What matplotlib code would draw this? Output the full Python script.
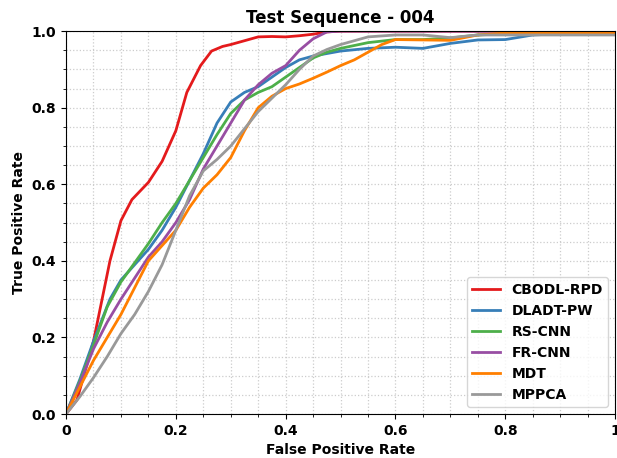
import matplotlib
matplotlib.use('Agg')
import matplotlib.pyplot as plt
from matplotlib.ticker import MultipleLocator

# ROC curves
red_x = [0, 0.02, 0.05, 0.08, 0.1, 0.12, 0.15, 0.175, 0.2, 0.22, 0.245, 0.265, 0.285, 0.3,
         0.325, 0.35, 0.375, 0.4, 0.425, 0.45, 0.475, 0.5, 0.6, 0.8, 1.0]
red_y = [0, 0.037, 0.19, 0.40, 0.505, 0.56, 0.605, 0.66, 0.74, 0.84, 0.91, 0.948, 0.96, 0.965,
         0.975, 0.985, 0.986, 0.985, 0.988, 0.992, 0.998, 1.0, 1.0, 1.0, 1.0]

blue_x = [0, 0.025, 0.05, 0.08, 0.1, 0.125, 0.15, 0.175, 0.2, 0.225, 0.25, 0.275, 0.3, 0.325,
          0.35, 0.375, 0.4, 0.425, 0.45, 0.5, 0.55, 0.6, 0.65, 0.7, 0.75, 0.8, 0.85, 0.9, 1.0]
blue_y = [0, 0.09, 0.19, 0.30, 0.35, 0.39, 0.43, 0.48, 0.54, 0.61, 0.68, 0.76, 0.815, 0.84,
          0.855, 0.88, 0.905, 0.925, 0.935, 0.948, 0.955, 0.958, 0.955, 0.968, 0.977, 0.978,
          0.99, 0.993, 0.993]

green_x = [0, 0.025, 0.05, 0.075, 0.1, 0.125, 0.15, 0.175, 0.2, 0.225, 0.25, 0.275, 0.3, 0.325,
           0.35, 0.375, 0.4, 0.425, 0.45, 0.475, 0.5, 0.55, 0.6, 0.65, 0.7, 0.75, 0.8, 1.0]
green_y = [0, 0.085, 0.18, 0.28, 0.345, 0.395, 0.445, 0.5, 0.55, 0.61, 0.67, 0.73, 0.785, 0.82,
           0.84, 0.855, 0.88, 0.905, 0.93, 0.945, 0.955, 0.97, 0.978, 0.978, 0.982, 0.99,
           0.993, 0.993]

purple_x = [0, 0.025, 0.05, 0.075, 0.1, 0.125, 0.15, 0.175, 0.2, 0.225, 0.25, 0.275, 0.3, 0.325,
            0.35, 0.375, 0.4, 0.425, 0.45, 0.475, 0.5, 0.6, 0.8, 1.0]
purple_y = [0, 0.08, 0.17, 0.24, 0.30, 0.355, 0.41, 0.45, 0.50, 0.56, 0.64, 0.70, 0.76, 0.82,
            0.86, 0.89, 0.91, 0.95, 0.98, 0.998, 1.0, 1.0, 1.0, 0.997]

orange_x = [0, 0.025, 0.05, 0.075, 0.1, 0.125, 0.15, 0.175, 0.2, 0.225, 0.25, 0.275, 0.3, 0.325,
            0.35, 0.375, 0.4, 0.425, 0.45, 0.475, 0.5, 0.525, 0.55, 0.575, 0.6, 0.65, 0.7, 0.75,
            0.8, 1.0]
orange_y = [0, 0.07, 0.14, 0.20, 0.26, 0.33, 0.40, 0.44, 0.48, 0.54, 0.59, 0.625, 0.67, 0.74,
            0.80, 0.83, 0.85, 0.862, 0.877, 0.893, 0.91, 0.925, 0.945, 0.965, 0.978, 0.977,
            0.976, 0.99, 0.995, 0.995]

gray_x = [0, 0.025, 0.05, 0.075, 0.1, 0.125, 0.15, 0.175, 0.2, 0.225, 0.25, 0.275, 0.3, 0.325,
          0.35, 0.375, 0.4, 0.425, 0.45, 0.475, 0.5, 0.55, 0.6, 0.65, 0.7, 0.75, 0.8, 1.0]
gray_y = [0, 0.045, 0.095, 0.15, 0.21, 0.26, 0.32, 0.39, 0.48, 0.57, 0.635, 0.665, 0.70, 0.745,
          0.79, 0.825, 0.86, 0.90, 0.935, 0.952, 0.965, 0.985, 0.99, 0.99, 0.983, 0.99, 0.99,
          0.99]

names = ['CBODL-RPD', 'DLADT-PW', 'RS-CNN', 'FR-CNN', 'MDT', 'MPPCA']
colors = ['#e41a1c', '#377eb8', '#4daf4a', '#984ea3', '#ff7f00', '#999999']
curves = [(red_x, red_y), (blue_x, blue_y), (green_x, green_y),
          (purple_x, purple_y), (orange_x, orange_y), (gray_x, gray_y)]

fig = plt.figure(figsize=(6.17, 4.58), dpi=100)
ax = fig.add_axes([0.107, 0.096, 0.89, 0.836])

for (x, y), name, c in zip(curves, names, colors):
    ax.plot(x, y, color=c, linewidth=2, label=name)

ax.set_xlim(0, 1)
ax.set_ylim(0, 1)
ax.xaxis.set_major_locator(MultipleLocator(0.2))
ax.yaxis.set_major_locator(MultipleLocator(0.2))
ax.xaxis.set_minor_locator(MultipleLocator(0.05))
ax.yaxis.set_minor_locator(MultipleLocator(0.05))
ax.set_xticks([0, 0.2, 0.4, 0.6, 0.8, 1.0])
ax.set_xticklabels(['0', '0.2', '0.4', '0.6', '0.8', '1'])
ax.set_yticks([0, 0.2, 0.4, 0.6, 0.8, 1.0])
ax.set_yticklabels(['0.0', '0.2', '0.4', '0.6', '0.8', '1.0'])
ax.grid(True, which='both', linestyle=':', color='#cccccc', linewidth=0.9)
ax.set_axisbelow(True)

for lab in ax.get_xticklabels() + ax.get_yticklabels():
    lab.set_fontweight('bold')
    lab.set_fontsize(10)

ax.set_title('Test Sequence - 004', fontsize=12, fontweight='bold')
ax.set_xlabel('False Positive Rate', fontsize=10, fontweight='bold')
ax.set_ylabel('True Positive Rate', fontsize=10, fontweight='bold')

ax.legend(loc='lower right', prop={'weight': 'bold', 'size': 10})

fig.savefig('out.png', dpi=100)
